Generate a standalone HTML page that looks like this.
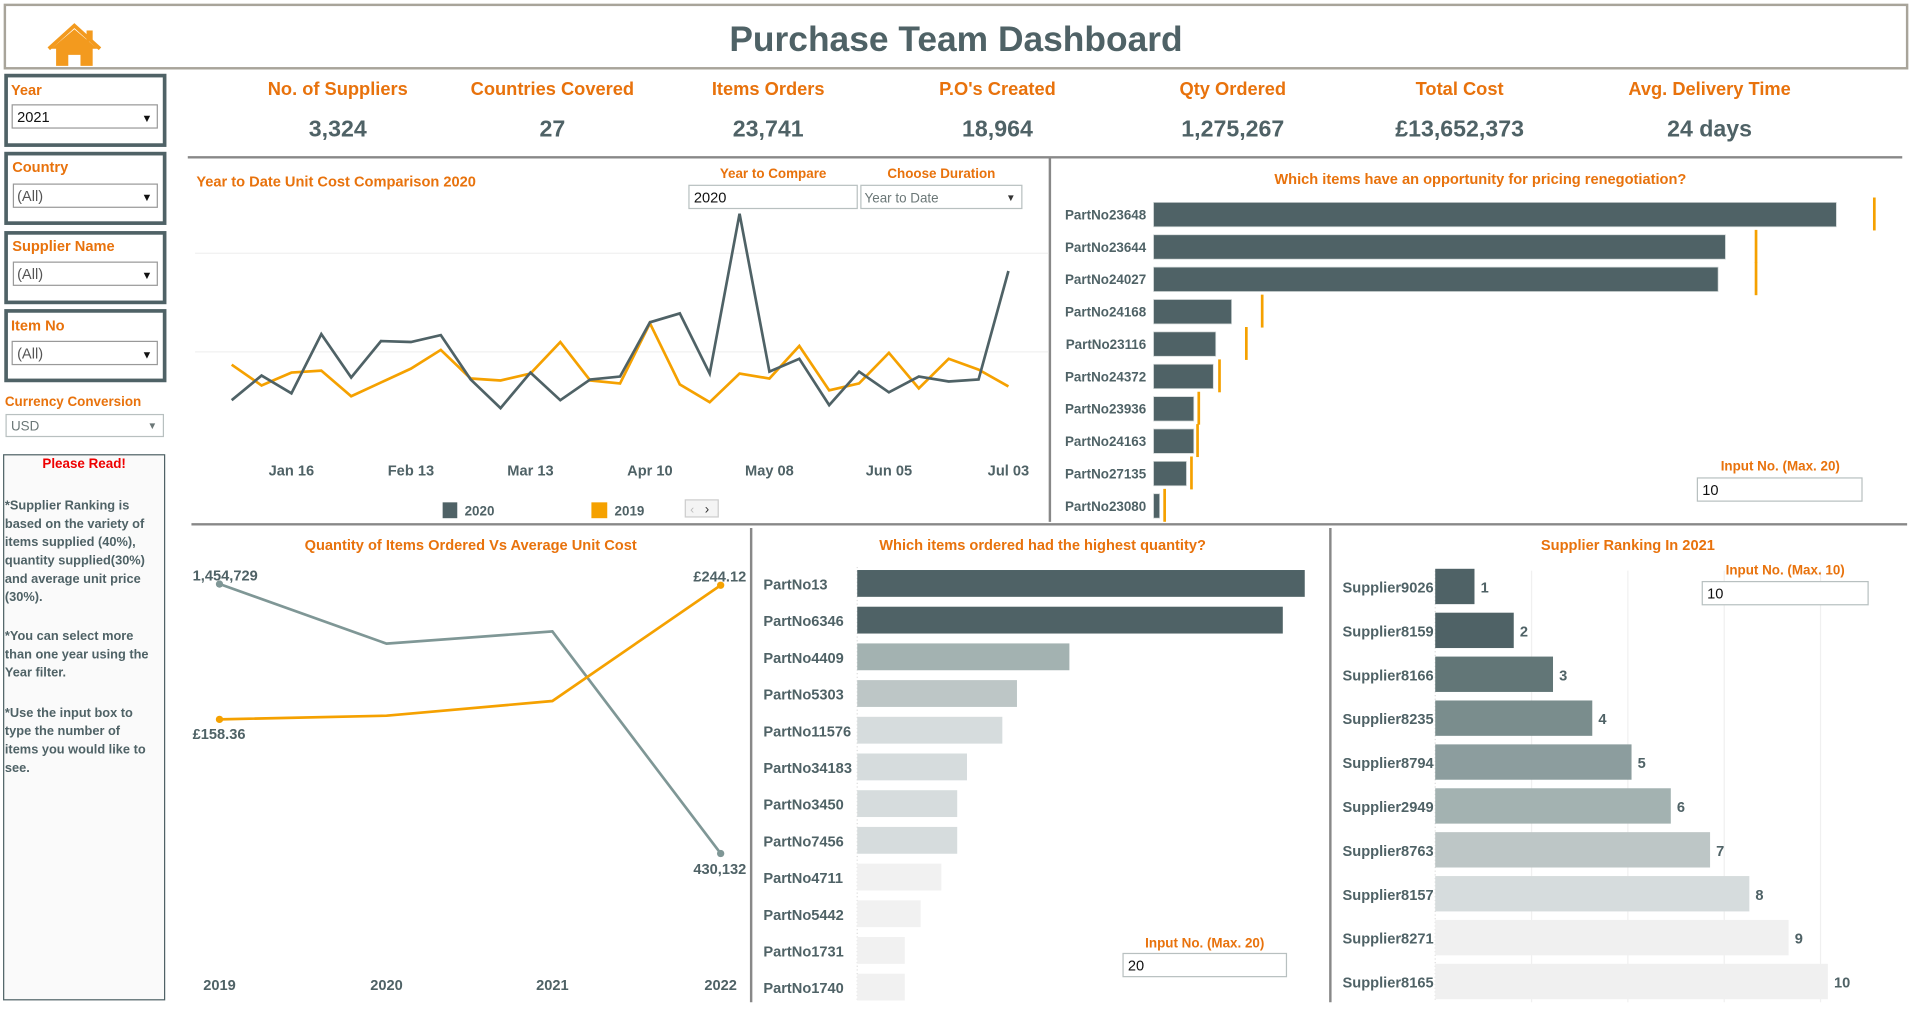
<!DOCTYPE html>
<html><head><meta charset="utf-8"><title>Purchase Team Dashboard</title>
<style>
html,body{margin:0;padding:0;background:#fff;overflow:hidden;}
#wrap{width:1912px;height:1012px;}
svg text{font-family:"Liberation Sans",sans-serif;}
.o{fill:#e8720c;font-weight:bold;}
.g{fill:#4f6266;font-weight:bold;}
</style></head>
<body>
<div id="wrap">
<svg id="s" width="1912" height="1012" viewBox="0 0 1568 830" preserveAspectRatio="none" xmlns="http://www.w3.org/2000/svg">
  <!-- header -->
  <rect x="4" y="4" width="1560" height="52" fill="#fff" stroke="#a8a49a" stroke-width="2"/>
  <g fill="#f39a1e">
    <path d="M42 40 L61 24 L80 40 L76 40 L76 54 L66 54 L66 45 L56 45 L56 54 L46 54 L46 40 Z"/>
    <path d="M40 40 L61 21 L82 40" fill="none" stroke="#f39a1e" stroke-width="3"/>
    <rect x="71" y="25" width="5" height="9"/>
  </g>
  <text x="784" y="42" text-anchor="middle" font-size="29" class="g">Purchase Team Dashboard</text>

  <!-- filters -->
  <g>
    <rect x="5" y="62" width="130" height="57" fill="#fff" stroke="#4f6266" stroke-width="3"/>
    <text x="9" y="78" font-size="12" class="o">Year</text>
    <rect x="10" y="86" width="119" height="19" fill="#fff" stroke="#999"/>
    <text x="14" y="100" font-size="12" fill="#111">2021</text>
    <text x="116" y="100" font-size="9" fill="#111">▼</text>
  </g>
  <g>
    <rect x="5" y="126" width="130" height="57" fill="#fff" stroke="#4f6266" stroke-width="3"/>
    <text x="10" y="141" font-size="12" class="o">Country</text>
    <rect x="11" y="151" width="118" height="19" fill="#fff" stroke="#999"/>
    <text x="14" y="165" font-size="12" fill="#555">(All)</text>
    <text x="116" y="165" font-size="9" fill="#111">▼</text>
  </g>
  <g>
    <rect x="5" y="191" width="130" height="57" fill="#fff" stroke="#4f6266" stroke-width="3"/>
    <text x="10" y="206" font-size="12" class="o">Supplier Name</text>
    <rect x="11" y="215" width="118" height="19" fill="#fff" stroke="#999"/>
    <text x="14" y="229" font-size="12" fill="#555">(All)</text>
    <text x="116" y="229" font-size="9" fill="#111">▼</text>
  </g>
  <g>
    <rect x="5" y="255" width="130" height="57" fill="#fff" stroke="#4f6266" stroke-width="3"/>
    <text x="9" y="271" font-size="12" class="o">Item No</text>
    <rect x="10" y="280" width="119" height="19" fill="#fff" stroke="#999"/>
    <text x="14" y="294" font-size="12" fill="#555">(All)</text>
    <text x="116" y="294" font-size="9" fill="#111">▼</text>
  </g>
  <text x="4" y="333" font-size="11" class="o">Currency Conversion</text>
  <g>
    <rect x="5" y="340" width="129" height="18" fill="#fff" stroke="#b8c0c0"/>
    <text x="9" y="353" font-size="11" fill="#6b7777">USD</text>
    <text x="121" y="352" font-size="8" fill="#6b7777">▼</text>
  </g>
  <g>
    <rect x="3" y="373" width="132" height="447" fill="#fafafa" stroke="#4f6266" stroke-width="1"/>
    <text x="69" y="384" text-anchor="middle" font-size="11" font-weight="bold" fill="#e00">Please Read!</text>
    <g font-size="10.5" class="g">
      <text x="4" y="418">*Supplier Ranking is</text>
      <text x="4" y="433">based on the variety of</text>
      <text x="4" y="448">items supplied (40%),</text>
      <text x="4" y="463">quantity supplied(30%)</text>
      <text x="4" y="478">and average unit price</text>
      <text x="4" y="493">(30%).</text>
      <text x="4" y="525">*You can select more</text>
      <text x="4" y="540">than one year using the</text>
      <text x="4" y="555">Year filter.</text>
      <text x="4" y="588">*Use the input box to</text>
      <text x="4" y="603">type the number of</text>
      <text x="4" y="618">items you would like to</text>
      <text x="4" y="633">see.</text>
    </g>
  </g>

  <!-- KPIs -->
  <g id="kpis"></g>

  <!-- separators -->
  <line x1="154" y1="129" x2="1560" y2="129" stroke="#888" stroke-width="2"/>
  <line x1="861" y1="130" x2="861" y2="428" stroke="#888" stroke-width="2"/>
  <line x1="157" y1="430" x2="1564" y2="430" stroke="#888" stroke-width="2"/>
  <line x1="616" y1="433" x2="616" y2="822" stroke="#888" stroke-width="2"/>
  <line x1="1091" y1="433" x2="1091" y2="822" stroke="#888" stroke-width="2"/>

  <!-- line chart -->
  <text x="161" y="153" font-size="12" class="o">Year to Date Unit Cost Comparison 2020</text>
  <text x="634" y="146" text-anchor="middle" font-size="11" class="o">Year to Compare</text>
  <g>
    <rect x="565" y="152" width="138" height="19" fill="#fff" stroke="#b8c0c0"/>
    <text x="569" y="166" font-size="12" fill="#111">2020</text>
  </g>
  <text x="772" y="146" text-anchor="middle" font-size="11" class="o">Choose Duration</text>
  <g>
    <rect x="706" y="152" width="132" height="19" fill="#fff" stroke="#b8c0c0"/>
    <text x="709" y="166" font-size="11" fill="#6b7777">Year to Date</text>
    <text x="825" y="165" font-size="8" fill="#333">▼</text>
  </g>
  <g id="ytd"></g>
  <g>
    <rect x="363" y="412" width="12" height="13" fill="#4f6266"/>
    <text x="381" y="423" font-size="11" class="g">2020</text>
    <rect x="485" y="412" width="13" height="13" fill="#f5a100"/>
    <text x="504" y="423" font-size="11" class="g">2019</text>
    <rect x="562" y="410" width="27" height="14" fill="#f4f4f4" stroke="#ccc"/>
    <text x="566" y="421" font-size="10" fill="#bbb">‹</text>
    <text x="578" y="421" font-size="11" fill="#333">›</text>
  </g>

  <!-- renegotiation -->
  <text x="1214" y="151" text-anchor="middle" font-size="12" class="o">Which items have an opportunity for pricing renegotiation?</text>
  <g id="reneg"></g>
  <text x="1460" y="386" text-anchor="middle" font-size="11" class="o">Input No. (Max. 20)</text>
  <g>
    <rect x="1392" y="392" width="135" height="19" fill="#fff" stroke="#b8c0c0"/>
    <text x="1396" y="406" font-size="12" fill="#111">10</text>
  </g>

  <!-- qty vs cost -->
  <text x="386" y="451" text-anchor="middle" font-size="12" class="o">Quantity of Items Ordered Vs Average Unit Cost</text>
  <g id="qvc"></g>

  <!-- highest qty -->
  <text x="855" y="451" text-anchor="middle" font-size="12" class="o">Which items ordered had the highest quantity?</text>
  <g id="hq"></g>
  <text x="988" y="777" text-anchor="middle" font-size="11" class="o">Input No. (Max. 20)</text>
  <g>
    <rect x="921" y="782" width="134" height="19" fill="#fff" stroke="#b8c0c0"/>
    <text x="925" y="796" font-size="12" fill="#111">20</text>
  </g>

  <!-- supplier ranking -->
  <text x="1335" y="451" text-anchor="middle" font-size="12" class="o">Supplier Ranking In  2021</text>
  <g id="sr"></g>
  <text x="1464" y="471" text-anchor="middle" font-size="11" class="o">Input No. (Max. 10)</text>
  <g>
    <rect x="1396" y="477" width="136" height="19" fill="#fff" stroke="#b8c0c0"/>
    <text x="1400" y="491" font-size="12" fill="#111">10</text>
  </g>
</svg>
</div>
<script>
const NS='http://www.w3.org/2000/svg';
function mk(parent,tag,attrs,txt){const e=document.createElementNS(NS,tag);for(const k in attrs)e.setAttribute(k,attrs[k]);if(txt!==undefined)e.textContent=txt;parent.appendChild(e);return e;}

// KPI data
const kpiTitles=['No. of Suppliers','Countries Covered','Items Orders',"P.O's Created",'Qty Ordered','Total Cost','Avg. Delivery Time'];
const kpiValues=['3,324','27','23,741','18,964','1,275,267','£13,652,373','24 days'];
// YTD line chart data
const weekLabels=['Jan 16','Feb 13','Mar 13','Apr 10','May 08','Jun 05','Jul 03'];
const cost2020=[5.1,7.6,5.8,11.8,7.4,11.1,11.0,11.7,7.2,4.3,7.9,5.1,7.2,7.5,13.0,13.9,7.8,24.0,8.0,9.3,4.6,8.0,5.9,7.5,7.0,7.2,18.2];
const cost2019=[8.7,6.6,7.9,8.1,5.5,6.9,8.3,10.2,7.3,7.1,7.8,11.0,7.1,6.8,12.9,6.7,4.9,7.8,7.3,10.6,6.1,6.8,9.9,6.3,9.3,8.2,6.5];
// Renegotiation
const renegItems=['PartNo23648','PartNo23644','PartNo24027','PartNo24168','PartNo23116','PartNo24372','PartNo23936','PartNo24163','PartNo27135','PartNo23080'];
const renegCurrent=[560,469,463,64,51,49,33,33,27,5];
const renegTarget=[591,494,494,89,76,54,37,36,31,9];
// Qty vs cost
const qvcYears=['2019','2020','2021','2022'];
const qvcQty=[1454729,1228100,1274500,430132];
const qvcCost=[158.36,160.7,170.1,244.12];
// Highest qty
const hqItems=['PartNo13','PartNo6346','PartNo4409','PartNo5303','PartNo11576','PartNo34183','PartNo3450','PartNo7456','PartNo4711','PartNo5442','PartNo1731','PartNo1740'];
const hqQty=[367,349,174,131,119,90,82,82,69,52,39,39];
// Supplier ranking
const srSuppliers=['Supplier9026','Supplier8159','Supplier8166','Supplier8235','Supplier8794','Supplier2949','Supplier8763','Supplier8157','Supplier8271','Supplier8165'];
const srRank=[1,2,3,4,5,6,7,8,9,10];

// KPIs
(function(){const g=document.getElementById('kpis');const xs=[277,453,630,818,1011,1197,1402];
kpiTitles.forEach((t,i)=>{
 const a=mk(g,'text',{x:xs[i],y:78,'text-anchor':'middle','font-size':15,class:'o'},t);
 
 
 const b=mk(g,'text',{x:xs[i],y:112,'text-anchor':'middle','font-size':19,class:'g'},kpiValues[i]);
 
 
});})();

// YTD line chart
(function(){const g=document.getElementById('ytd');
const x0=190,x1=827,n=cost2020.length;const X=i=>x0+i*(x1-x0)/(n-1);
const Y=v=>369.5-v*8.09;
[10,20].forEach(v=>mk(g,'line',{x1:160,x2:860,y1:Y(v),y2:Y(v),stroke:'#f0f0f0','stroke-width':1}));
weekLabels.forEach((l,i)=>{const t=mk(g,'text',{x:X(2+i*4),y:390,'text-anchor':'middle','font-size':12,class:'g'},l);
 
 });
[[cost2019,'#f5a100','line-2019'],[cost2020,'#4f6266','line-2020']].forEach(([d,c,nm])=>{
 const p=mk(g,'polyline',{points:d.map((v,i)=>X(i)+','+Y(v)).join(' '),fill:'none',stroke:c,'stroke-width':2.2,'stroke-linejoin':'miter'});
 
 
});})();

// Renegotiation
(function(){const g=document.getElementById('reneg');const bx=946;const Y=i=>176+i*26.55;
renegItems.forEach((it,i)=>{
 const t=mk(g,'text',{x:940,y:Y(i)+4,'text-anchor':'end','font-size':11,class:'g'},it);
 
 
 const r=mk(g,'rect',{x:bx,y:Y(i)-10,width:renegCurrent[i],height:20,fill:'#4f6266',stroke:'#d0d6d6','stroke-width':0.6});
 
 
 const m=mk(g,'rect',{x:bx+renegTarget[i]-1,y:Y(i)-14,width:2.2,height:27,fill:'#f5a100'});
 
 
});})();

// Qty vs Cost
(function(){const g=document.getElementById('qvc');const xs=[180,317,453,591];
const YQ=v=>479+(1454729-v)*221/1024597;const YC=v=>590-(v-158.36)*110/85.76;
qvcYears.forEach((y,i)=>{const t=mk(g,'text',{x:xs[i],y:812,'text-anchor':'middle','font-size':12,class:'g'},y);
 
 });
[[qvcQty,YQ,'#7f9796','qty-line'],[qvcCost,YC,'#f5a100','cost-line']].forEach(([d,F,c,nm])=>{
 const p=mk(g,'polyline',{points:d.map((v,i)=>xs[i]+','+F(v)).join(' '),fill:'none',stroke:c,'stroke-width':2.2});
 
 
 [0,d.length-1].forEach(i=>{const c2=mk(g,'circle',{cx:xs[i],cy:F(d[i]),r:3,fill:c});
  
  });
});
const f=v=>v.toLocaleString('en-GB');
mk(g,'text',{x:158,y:YQ(qvcQty[0])-3,'font-size':12,class:'g'},f(qvcQty[0]));
mk(g,'text',{x:612,y:YQ(qvcQty[3])+17,'text-anchor':'end','font-size':12,class:'g'},f(qvcQty[3]));
mk(g,'text',{x:158,y:YC(qvcCost[0])+16,'font-size':12,class:'g'},'£'+qvcCost[0].toFixed(2));
mk(g,'text',{x:612,y:YC(qvcCost[3])-3,'text-anchor':'end','font-size':12,class:'g'},'£'+qvcCost[3].toFixed(2));
})();

// Highest qty
(function(){const g=document.getElementById('hq');const bx=703;const Y=i=>478.5+i*30.1;
const cols=['#4f6266','#4f6266','#a3b2b1','#bdc6c6','#d6dcdd','#d6dcdd','#d6dcdd','#d6dcdd','#f1f1f1','#f1f1f1','#f1f1f1','#f1f1f1'];
mk(g,'line',{x1:bx,x2:bx,y1:465,y2:822,stroke:'#ddd','stroke-dasharray':'1,2'});
hqItems.forEach((it,i)=>{
 const t=mk(g,'text',{x:626,y:Y(i)+5,'font-size':12,class:'g'},it);
 
 
 const r=mk(g,'rect',{x:bx,y:Y(i)-11,width:hqQty[i],height:22,fill:cols[i]});
 
 
});})();

// Supplier ranking
(function(){const g=document.getElementById('sr');const bx=1177,u=32.2;const Y=i=>481+i*36;
const cols=['#4f6266','#4f6266','#627677','#7a8d8d','#8c9d9e','#a3b2b1','#bdc6c6','#d6dcdd','#f0f0f0','#f0f0f0'];
[1,2,3,4].forEach(k=>mk(g,'line',{x1:bx+k*79,x2:bx+k*79,y1:468,y2:822,stroke:'#f0f0f0'}));
mk(g,'line',{x1:bx,x2:bx,y1:468,y2:822,stroke:'#ddd','stroke-dasharray':'1,2'});
srSuppliers.forEach((s,i)=>{
 const t=mk(g,'text',{x:1101,y:Y(i)+5,'font-size':12,class:'g'},s);
 
 
 const w=srRank[i]*u;
 const r=mk(g,'rect',{x:bx,y:Y(i)-14.5,width:w,height:29,fill:cols[i]});
 
 
 const v=mk(g,'text',{x:bx+w+5,y:Y(i)+5,'font-size':12,class:'g'},String(srRank[i]));
 
 
});})();
</script>
</body></html>
